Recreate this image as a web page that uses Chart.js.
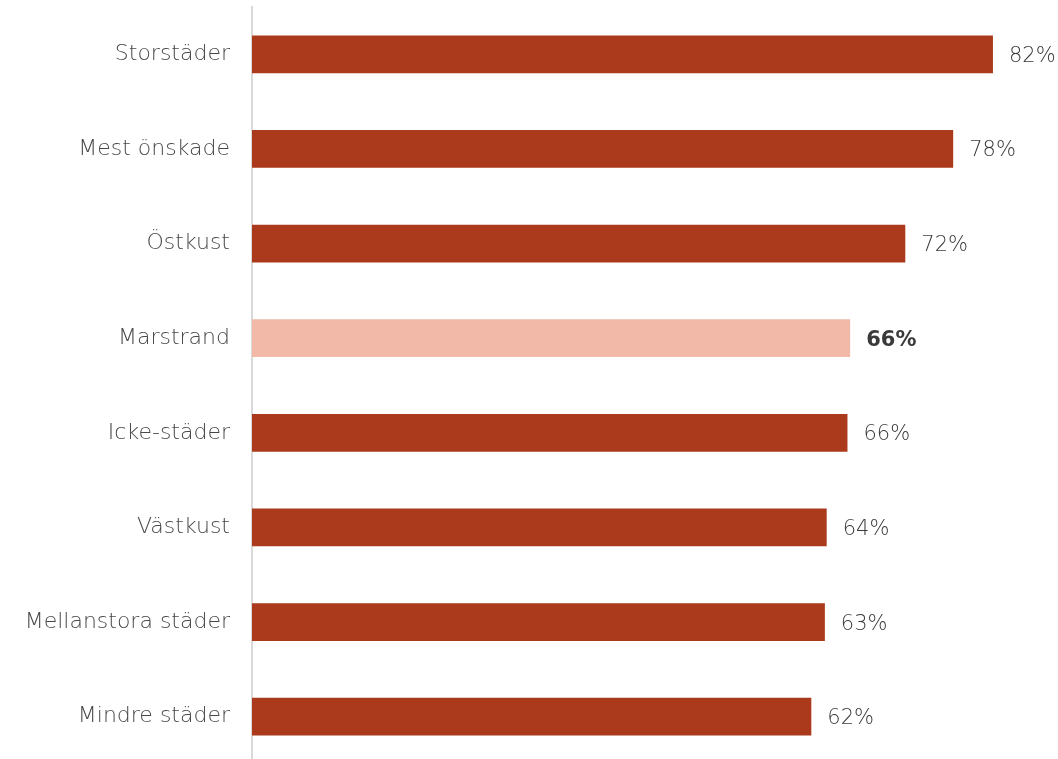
<!DOCTYPE html>
<html lang="sv">
<head>
    <meta charset="UTF-8">
    <title>Andel per område</title>
    <script src="https://cdn.jsdelivr.net/npm/chart.js"></script>
    <style>
        html, body {
            margin: 0;
            padding: 0;
            background: #ffffff;
            overflow: hidden;
        }
        canvas {
            display: block;
        }
    </style>
</head>
<body>
    <canvas id="barChart" width="1058" height="764"></canvas>

    <script>
        // Data
        const categories = ['Storstäder', 'Mest önskade', 'Östkust', 'Marstrand', 'Icke-städer', 'Västkust', 'Mellanstora städer', 'Mindre städer'];
        const values = [82.0, 77.6, 72.3, 66.2, 65.9, 63.6, 63.4, 61.9];
        const valueLabels = ['82%', '78%', '72%', '66%', '66%', '64%', '63%', '62%'];
        const highlightIndex = 3;

        const baseColor = '#AA3A1B';
        const lightColor = '#F2B9A9';
        const fontFamily = "'DejaVu Sans', sans-serif";

        // Draws the percentage after each bar
        const valueLabelPlugin = {
            id: 'valueLabels',
            afterDatasetsDraw(chart) {
                const ctx = chart.ctx;
                const meta = chart.getDatasetMeta(0);
                ctx.save();
                ctx.textAlign = 'left';
                ctx.textBaseline = 'middle';
                meta.data.forEach((bar, i) => {
                    const bold = i === highlightIndex;
                    ctx.font = (bold ? 'bold ' : '200 ') + '21px ' + fontFamily;
                    ctx.fillStyle = '#3a3a3a';
                    ctx.fillText(valueLabels[i], bar.x + 16, bar.y + 2);
                });
                ctx.restore();
            }
        };

        const ctx = document.getElementById('barChart').getContext('2d');
        new Chart(ctx, {
            type: 'bar',
            data: {
                labels: categories,
                datasets: [{
                    data: values,
                    backgroundColor: categories.map((c, i) => i === highlightIndex ? lightColor : baseColor),
                    borderWidth: 0,
                    categoryPercentage: 0.4,
                    barPercentage: 1.0
                }]
            },
            options: {
                indexAxis: 'y',
                responsive: false,
                animation: false,
                layout: {
                    padding: { top: 7, right: 0, bottom: 0, left: 0 }
                },
                scales: {
                    x: {
                        display: false,
                        min: 0,
                        max: 89.2
                    },
                    y: {
                        grid: { display: false, drawTicks: false },
                        border: { display: true, color: '#D9D9D9', width: 2 },
                        ticks: {
                            padding: 22,
                            color: '#484848',
                            font: { family: fontFamily, size: 22, weight: '200' }
                        },
                        afterFit(scale) {
                            // fixed label column, no extra space above/below
                            scale.width = 252;
                            scale.paddingTop = 0;
                            scale.paddingBottom = 0;
                        }
                    }
                },
                plugins: {
                    legend: { display: false },
                    tooltip: { enabled: false }
                }
            },
            plugins: [valueLabelPlugin]
        });
    </script>
</body>
</html>
